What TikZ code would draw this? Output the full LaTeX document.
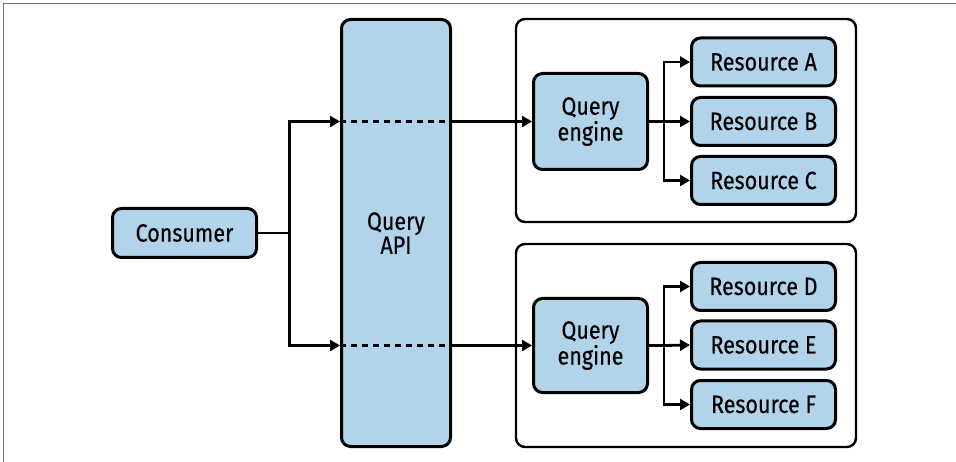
\documentclass[tikz,border=0pt]{standalone}
\usepackage{fontspec}
\setmainfont[FakeStretch=0.86,FakeBold=0.4]{Fira Sans}
\usetikzlibrary{arrows.meta,calc}
\definecolor{boxblue}{RGB}{177,212,234}
\definecolor{framegray}{RGB}{120,120,120}
\tikzset{
  bluebox/.style={draw=black, fill=boxblue, line width=3pt, rounded corners=9pt,
    align=center, inner sep=0pt, font=\fontsize{25}{24}\selectfont},
  container/.style={draw=black, line width=2.4pt, rounded corners=9pt},
  conn/.style={draw=black, line width=2.8pt},
  arr/.style={conn, -{Triangle[length=10pt,width=11pt]}},
  dashline/.style={conn, dash pattern=on 6pt off 5pt}
}
\begin{document}
\begin{tikzpicture}[x=1pt,y=-1pt]
\useasboundingbox (0,0) rectangle (956,462);
\draw[framegray, line width=1pt] (3.5,462) -- (3.5,3.5) -- (956,3.5);

% containers
\draw[container] (516,19) rectangle (856,222);
\draw[container] (516,244) rectangle (856,447);

% nodes
\node[bluebox, minimum width=144pt, minimum height=49pt] (consumer) at (184.5,233) {Consumer};
\node[bluebox, minimum width=109pt, minimum height=427pt] (api) at (396,233) {Query\\API};
\node[bluebox, minimum width=114pt, minimum height=96pt] (qe1) at (590.5,121.5) {Query\\engine};
\node[bluebox, minimum width=114pt, minimum height=94pt] (qe2) at (590.5,345.5) {Query\\engine};
\node[bluebox, minimum width=144pt, minimum height=48pt] (resA) at (763.5,62) {Resource A};
\node[bluebox, minimum width=144pt, minimum height=48pt] (resB) at (763.5,121.5) {Resource B};
\node[bluebox, minimum width=144pt, minimum height=48pt] (resC) at (763.5,180.5) {Resource C};
\node[bluebox, minimum width=144pt, minimum height=48pt] (resD) at (763.5,286.5) {Resource D};
\node[bluebox, minimum width=144pt, minimum height=48pt] (resE) at (763.5,345) {Resource E};
\node[bluebox, minimum width=144pt, minimum height=48pt] (resF) at (763.5,404.5) {Resource F};

% junctions
\coordinate (j) at (289.5,233);
\coordinate (k1) at (664,121.5);
\coordinate (k2) at (664,345.5);

% consumer to API
\draw[conn] (consumer.east) -- (j);
\draw[arr] (j) |- (api.west |- qe1.west);
\draw[arr] (j) |- (api.west |- qe2.west);
\draw[dashline] (api.west |- qe1.west) -- (api.east |- qe1.west);
\draw[dashline] (api.west |- qe2.west) -- (api.east |- qe2.west);
\draw[arr] (api.east |- qe1.west) -- (qe1.west);
\draw[arr] (api.east |- qe2.west) -- (qe2.west);

% engines to resources
\draw[conn] (qe1.east) -- (k1);
\draw[arr] (k1) |- (resA.west);
\draw[arr] (k1) -- (resB.west);
\draw[arr] (k1) |- (resC.west);
\draw[conn] (qe2.east) -- (k2);
\draw[arr] (k2) |- (resD.west);
\draw[arr] (k2) -- (resE.west);
\draw[arr] (k2) |- (resF.west);
\end{tikzpicture}
\end{document}
